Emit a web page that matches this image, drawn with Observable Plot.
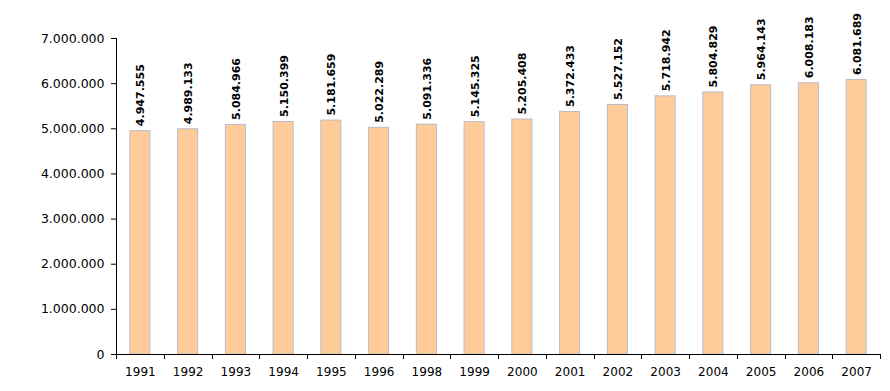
<!DOCTYPE html>
<html>
<head>
<meta charset="utf-8">
<script src="https://cdn.jsdelivr.net/npm/d3@7"></script>
<script src="https://cdn.jsdelivr.net/npm/@observablehq/plot@0.6"></script>
<style>
  html, body { margin: 0; padding: 0; background: #fff; overflow: hidden; }
  #chart svg { display: block; }
</style>
</head>
<body>
<div id="chart"></div>
<script>
const years = ["1991","1992","1993","1994","1995","1996","1998","1999","2000","2001","2002","2003","2004","2005","2006","2007"];
const values = [4947555, 4989133, 5084966, 5150399, 5181659, 5022289, 5091336, 5145325, 5205408, 5372433, 5527152, 5718942, 5804829, 5964143, 6008183, 6081689];
const yTicks = [0, 1000000, 2000000, 3000000, 4000000, 5000000, 6000000, 7000000];

const data = years.map((year, i) => ({year, value: values[i]}));
const fmt = d3.formatLocale({decimal: ",", thousands: ".", grouping: [3], currency: ["", ""]}).format(",d");

const paddingInner = 0.58;
const paddingOuter = paddingInner / 2;

// axis lines and category-boundary ticks drawn from the scales
const axisFrame = (index, scales, values, dims) => {
  const g = d3.create("svg:g").attr("stroke", "#000").attr("fill", "none");
  const left = dims.marginLeft, right = dims.width - dims.marginRight;
  const y0 = scales.y(0), yTop = scales.y(yTicks[yTicks.length - 1]);
  g.append("line").attr("x1", left + 0.5).attr("x2", left + 0.5).attr("y1", yTop).attr("y2", y0);
  const step = (right - left) / years.length;
  const bw = step * (1 - paddingInner);
  const bounds = years.map(y => scales.x(y) + bw / 2 - step / 2).concat([right]);
  for (const b of bounds) {
    const xb = Math.round(b) + 0.5;
    g.append("line").attr("x1", xb).attr("x2", xb).attr("y1", y0).attr("y2", y0 + 5);
  }
  return g.node();
};

const chart = Plot.plot({
  width: 890,
  height: 391,
  marginLeft: 116,
  marginRight: 10,
  marginTop: 38,
  marginBottom: 37,
  style: {fontFamily: "'DejaVu Sans', Verdana, sans-serif", fontSize: "12px", color: "#000", background: "#fff"},
  x: {domain: years, paddingInner, paddingOuter, align: 0.5, round: false},
  y: {domain: [0, 7000000]},
  marks: [
    Plot.barY(data, {x: "year", y: "value", fill: "#FFCC99", stroke: "#b9bcc9", strokeWidth: 1}),
    Plot.ruleY([0], {stroke: "#000"}),
    axisFrame,
    Plot.axisY({ticks: yTicks, tickFormat: fmt, tickSize: 5, tickPadding: 7, fontSize: 12.5, stroke: "#000", label: null}),
    Plot.axisX({tickSize: 0, tickPadding: 13, fontSize: 12, label: null}),
    Plot.text(data, {x: "year", y: "value", text: d => fmt(d.value), rotate: -90, textAnchor: "start", dy: -5, dx: 0.5, fontWeight: "bold", fontSize: 11, fill: "#000"})
  ]
});
document.getElementById("chart").appendChild(chart);
</script>
</body>
</html>
